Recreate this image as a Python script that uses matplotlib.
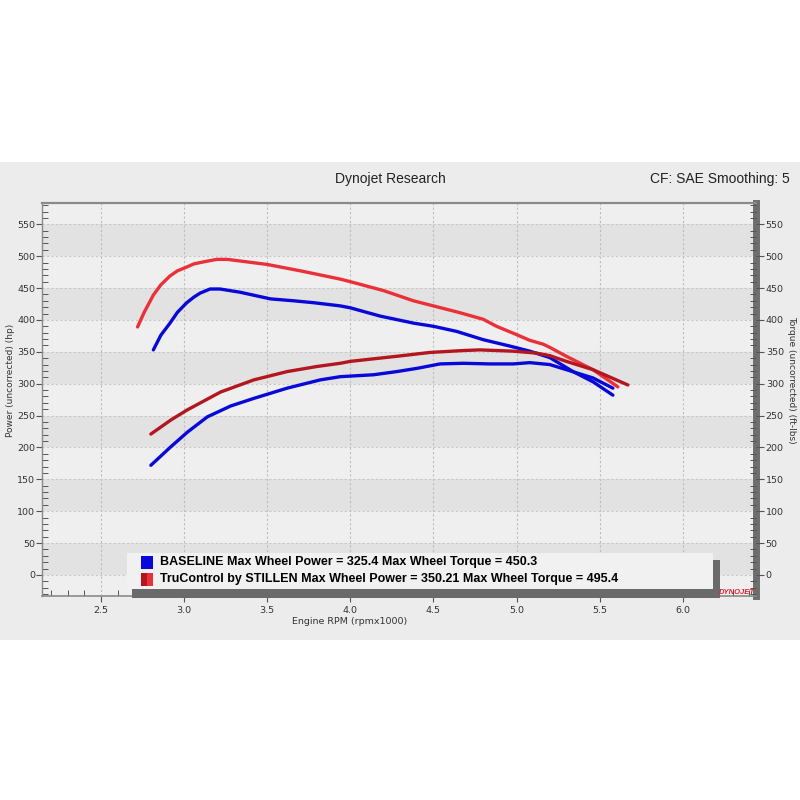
import matplotlib
matplotlib.use("Agg")
import matplotlib.pyplot as plt
from matplotlib.patches import Rectangle
from matplotlib.ticker import MultipleLocator
import numpy as np

# ---------------- data ----------------
tru_torque_rpm = [2.72, 2.76, 2.815, 2.86, 2.915, 2.96, 3.016, 3.06, 3.116, 3.196, 3.26, 3.32,
                  3.50, 3.70, 3.94, 4.00, 4.20, 4.38, 4.50, 4.65, 4.80, 4.88, 5.00, 5.08,
                  5.16, 5.20, 5.30, 5.46, 5.61]
tru_torque_val = [389, 412, 439, 455, 469, 477, 483, 488, 491, 495, 495, 493,
                  487, 477, 464, 460, 446, 430, 422, 412, 401, 390, 377, 368,
                  362, 357, 343, 322, 295]

base_torque_rpm = [2.815, 2.86, 2.915, 2.96, 3.016, 3.06, 3.096, 3.156, 3.216, 3.336, 3.45,
                   3.52, 3.66, 3.78, 3.94, 4.00, 4.18, 4.38, 4.50, 4.64, 4.80, 4.96, 5.08,
                   5.20, 5.34, 5.46, 5.58]
base_torque_val = [353, 376, 395, 412, 427, 436, 442, 448.5, 448.5, 443.5, 437,
                   433, 430, 427, 422, 419, 406, 395, 390, 382, 369, 359, 351,
                   341, 319, 303, 282]

tru_power_rpm = [2.80, 2.92, 3.02, 3.22, 3.42, 3.62, 3.80, 3.94, 4.00, 4.28, 4.48, 4.68, 4.78,
                 4.98, 5.12, 5.20, 5.30, 5.46, 5.67]
tru_power_val = [221, 243, 259, 287, 306, 319, 327, 332, 335, 343, 349, 352, 353,
                 351, 348, 344, 335, 322, 298]

base_power_rpm = [2.80, 2.92, 3.02, 3.14, 3.28, 3.42, 3.62, 3.82, 3.94, 4.14, 4.28, 4.40, 4.54,
                  4.68, 4.84, 4.98, 5.08, 5.20, 5.30, 5.46, 5.58]
base_power_val = [172, 201, 224, 248, 265, 277, 293, 306, 311, 314, 319, 324, 331,
                  332, 331, 331, 333, 330, 322, 309, 293]

x_ticks = [2.5, 3.0, 3.5, 4.0, 4.5, 5.0, 5.5, 6.0]
y_ticks = list(range(0, 551, 50))

legend_lines = ["BASELINE Max Wheel Power = 325.4 Max Wheel Torque = 450.3",
                "TruControl by STILLEN Max Wheel Power = 350.21 Max Wheel Torque = 495.4"]

BLUE = "#0808D8"
RED = "#EA3038"
DARKRED = "#B3161E"

# ---------------- figure ----------------
W, H = 800, 800
fig = plt.figure(figsize=(8, 8), dpi=100)
fig.patch.set_facecolor("white")

def fx(px):
    return px / W

def fy(py):
    return 1 - py / H

# grey panel
fig.patches.append(Rectangle((0, fy(640)), 1, (640 - 162) / H, transform=fig.transFigure,
                             facecolor="#ECECEC", edgecolor="none", zorder=-10))

L, R, T, B = 42, 756, 203, 596
ax = fig.add_axes([fx(L), fy(B), (R - L) / W, (B - T) / H])
ax.set_zorder(1)
ax.set_facecolor("#EFEFEF")
ax.set_xlim(2.145, 2.145 + (R - L) / 166.2)
ax.set_ylim(-33, 583.4)

# alternating bands
for lo in [0, 100, 200, 300, 400, 500]:
    ax.axhspan(lo, lo + 50, color="#E2E2E2", zorder=0, lw=0)

# grid
for xv in x_ticks:
    ax.axvline(xv, color="#BDBDBD", lw=0.8, ls=(0, (2, 2)), zorder=1)
for yv in y_ticks:
    ax.axhline(yv, color="#C8C8C8", lw=0.8, ls=(0, (2, 2)), zorder=1)

lw = 2.4
for xs, ys, c in [(tru_torque_rpm, tru_torque_val, RED),
                  (base_torque_rpm, base_torque_val, BLUE),
                  (tru_power_rpm, tru_power_val, DARKRED),
                  (base_power_rpm, base_power_val, BLUE)]:
    ax.plot(xs, ys, color=c, lw=lw, solid_capstyle="round", solid_joinstyle="round", zorder=3)

# spines
for s in ["left", "bottom", "top"]:
    ax.spines[s].set_color("#8A8A8A")
ax.spines["top"].set_linewidth(1.6)
ax.spines["left"].set_linewidth(1.0)
ax.spines["bottom"].set_linewidth(1.2)
ax.spines["right"].set_color("#6E6E6E")
ax.spines["right"].set_linewidth(5)

tickfont = dict(fontsize=6.8, color="#333333")
ax.set_xticks(x_ticks)
ax.set_xticklabels([f"{v:.1f}" for v in x_ticks], **tickfont)
ax.set_yticks(y_ticks)
ax.set_yticklabels([str(v) for v in y_ticks], **tickfont)
ax.xaxis.set_minor_locator(MultipleLocator(0.1))
ax.yaxis.set_minor_locator(MultipleLocator(10))
ax.tick_params(axis="both", which="major", direction="out", length=4, width=0.8, color="#555555", pad=1)
ax.tick_params(axis="both", which="minor", direction="in", length=4, width=0.7, color="#555555")
ax.tick_params(axis="x", which="major", pad=3)

ax2 = ax.twinx()
ax2.set_zorder(1)
ax2.set_ylim(ax.get_ylim())
ax2.set_yticks(y_ticks)
ax2.set_yticklabels([str(v) for v in y_ticks], **tickfont)
ax2.yaxis.set_minor_locator(MultipleLocator(10))
ax2.tick_params(axis="y", which="major", direction="out", length=6, width=0.8, color="#555555", pad=1)
ax2.tick_params(axis="y", which="minor", direction="in", length=4, width=0.7, color="#555555")
for s in ax2.spines.values():
    s.set_visible(False)

fig.text(fx(350), fy(622), "Engine RPM (rpmx1000)", ha="center", va="center",
         fontsize=6.8, color="#333333")
fig.text(fx(11), fy(380), "Power (uncorrected) (hp)", ha="center", va="center",
         rotation=90, fontsize=6.5, color="#333333")
fig.text(fx(792), fy(380), "Torque (uncorrected) (ft-lbs)", ha="center", va="center",
         rotation=270, fontsize=6.5, color="#333333")

# titles
fig.text(fx(390), fy(179), "Dynojet Research", ha="center", va="center",
         fontsize=10, family="Liberation Sans", color="#222222")
fig.text(fx(790), fy(179), "CF: SAE Smoothing: 5", ha="right", va="center",
         fontsize=10, family="Liberation Sans", color="#222222")

# legend box with shadow
fig.patches.append(Rectangle((fx(132), fy(598)), (720 - 132) / W, (598 - 560) / H,
                             transform=fig.transFigure, facecolor="#6A6A6A", edgecolor="none", zorder=5))
fig.patches.append(Rectangle((fx(127), fy(589)), (713 - 127) / W, (589 - 553) / H,
                             transform=fig.transFigure, facecolor="#F1F1F1", edgecolor="none", zorder=6))
fig.patches.append(Rectangle((fx(141), fy(569)), 12 / W, 13 / H, transform=fig.transFigure,
                             facecolor=BLUE, edgecolor="none", zorder=7))
fig.patches.append(Rectangle((fx(141), fy(586)), 6 / W, 13 / H, transform=fig.transFigure,
                             facecolor=DARKRED, edgecolor="none", zorder=7))
fig.patches.append(Rectangle((fx(147), fy(586)), 6 / W, 13 / H, transform=fig.transFigure,
                             facecolor=RED, edgecolor="none", zorder=7))
for i, txt in enumerate(legend_lines):
    fig.text(fx(160), fy(562 + 17 * i), txt, ha="left", va="center", fontsize=9,
             family="Liberation Sans", weight="bold", color="black", zorder=8)

# dynojet logo
fig.text(fx(755), fy(593), "DYNOJET", ha="right", va="center", fontsize=5.5, style="italic",
         weight="bold", color="#E02030", family="Liberation Sans", zorder=9)

fig.savefig("out.png", dpi=100, facecolor="white")
